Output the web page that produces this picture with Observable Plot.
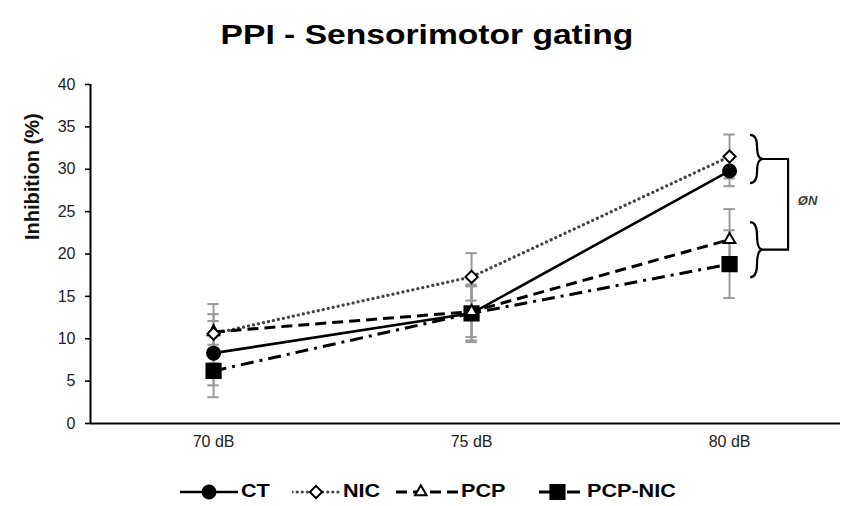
<!DOCTYPE html>
<html><head><meta charset="utf-8">
<script src="https://cdn.jsdelivr.net/npm/d3@7"></script>
<script src="https://cdn.jsdelivr.net/npm/@observablehq/plot@0.6"></script>
<style>
body{margin:0;background:#fff;font-family:"Liberation Sans",Arial,sans-serif;}
#wrap{width:853px;height:506px;position:relative;overflow:hidden;background:#fff}
#title{position:absolute;left:0;top:0;width:853px;height:70px;line-height:70px;text-align:center;font-weight:bold;font-size:28px;color:#000;}
#title span{display:inline-block;transform:scaleX(1.2);}
#chart{position:absolute;left:0;top:70px;}
#legend{position:absolute;left:0;top:470px;width:853px;height:36px;}
.lg-sw{position:absolute;top:12px;}
.lg-tx{position:absolute;top:10px;font-weight:bold;font-size:18px;line-height:22px;transform:scaleX(1.2);transform-origin:left center;color:#000;}
</style></head><body>
<div id="wrap"><div id="title"><span>PPI - Sensorimotor gating</span></div><div id="chart"></div><div id="legend"></div></div>
<script>
// ---- data ----
const categories = ["70 dB", "75 dB", "80 dB"];
const groups = ["CT", "NIC", "PCP", "PCP-NIC"];
const ct = [8.3, 13.0, 29.8];
const ctErr = [3.8, 3.2, 1.8];
const nic = [10.6, 17.3, 31.5];
const nicErr = [3.5, 2.8, 2.6];
const pcp = [10.8, 13.2, 21.7];
const pcpErr = [2.1, 3.0, 3.6];
const pcpNic = [6.2, 13.0, 18.8];
const pcpNicErr = [3.1, 3.4, 4.0];
const yTicks = [0, 5, 10, 15, 20, 25, 30, 35, 40];
const yLabel = "Inhibition (%)";
const significance = "ØN";
const braceCategory = 2;                 // 80 dB
const braceSpans = [[28.3, 34.0], [17.2, 23.7]];

// ---- styles ----
const styles = {
  "CT":      {stroke: "#000", width: 2.6, dash: null,        cap: "butt",  symbol: "circle",   fill: "#000", r: 6.5},
  "NIC":     {stroke: "#444", width: 3.2, dash: "0.1,5",     cap: "round", symbol: "diamond2", fill: "#fff", r: 5.5},
  "PCP":     {stroke: "#000", width: 3,   dash: "11,6",      cap: "butt",  symbol: "triangle2",fill: "#fff", r: 5.5},
  "PCP-NIC": {stroke: "#000", width: 3,   dash: "13,6,3,6",  cap: "butt",  symbol: "square",   fill: "#000", r: 8}
};
const seriesVals = {"CT": [ct, ctErr], "NIC": [nic, nicErr], "PCP": [pcp, pcpErr], "PCP-NIC": [pcpNic, pcpNicErr]};
const rows = groups.flatMap(g => categories.map((c, i) => ({group: g, cat: c, xi: i, value: seriesVals[g][0][i], err: seriesVals[g][1][i]})));

function braceMark(index, scales) {
  const g = d3.create("svg:g").attr("fill", "none").attr("stroke", "#000").attr("stroke-width", 2.2);
  const x0 = scales.x(braceCategory) + 21, xm = x0 + 7, xt = x0 + 13, xb = x0 + 38;
  const mids = [];
  for (const [lo, hi] of braceSpans) {
    const yt = scales.y(hi), yb = scales.y(lo), ym = (yt + yb) / 2;
    mids.push(ym);
    g.append("path").attr("d",
      `M${x0},${yt} Q${xm},${yt} ${xm},${(yt + ym) / 2} Q${xm},${ym} ${xt},${ym} Q${xm},${ym} ${xm},${(ym + yb) / 2} Q${xm},${yb} ${x0},${yb}`);
  }
  g.append("path").attr("d", `M${xt},${mids[0]} H${xb} V${mids[1]} H${xt}`);
  return g.node();
}
const sigY = d3.mean(braceSpans, s => (s[0] + s[1]) / 2) + 0.5;

const lineMarks = groups.map(g => Plot.line(rows.filter(d => d.group === g), {
  x: "xi", y: "value", stroke: styles[g].stroke, strokeWidth: styles[g].width,
  strokeDasharray: styles[g].dash, strokeLinecap: styles[g].cap
}));
const dotOrder = ["CT", "PCP-NIC", "PCP", "NIC"];
const dotMarks = dotOrder.map(g => Plot.dot(rows.filter(d => d.group === g), {
  x: "xi", y: "value", symbol: () => styles[g].symbol, r: styles[g].r,
  fill: styles[g].fill, stroke: "#000", strokeWidth: 2
}));

const chart = Plot.plot({
  width: 853, height: 395,
  marginLeft: 90, marginRight: 13, marginTop: 14, marginBottom: 42,
  style: {fontFamily: "'Liberation Sans', Arial, sans-serif", background: "transparent"},
  x: {domain: [-0.477, 2.43], axis: null},
  y: {domain: [0, 40], axis: null},
  symbol: {type: "identity"},
  marks: [
    Plot.axisY({ticks: yTicks, tickSize: 5, tickPadding: 10, fontSize: 16, label: null, stroke: "#000", strokeWidth: 1.6, fill: "#222"}),
    Plot.axisX({ticks: [0, 1, 2], tickFormat: i => categories[i], tickSize: 0, tickPadding: 12, fontSize: 16, label: null, fill: "#222"}),
    Plot.text([yLabel], {frameAnchor: "left", rotate: -90, dx: -58, dy: -14, fontSize: 20, fontWeight: "bold", fill: "#111"}),
    Plot.ruleX(rows, {x: "xi", y1: d => d.value - d.err, y2: d => d.value + d.err, stroke: "#999", strokeWidth: 2}),
    Plot.ruleY(rows, {y: d => d.value + d.err, x1: d => d.xi - 0.022, x2: d => d.xi + 0.022, stroke: "#999", strokeWidth: 2}),
    Plot.ruleY(rows, {y: d => d.value - d.err, x1: d => d.xi - 0.022, x2: d => d.xi + 0.022, stroke: "#999", strokeWidth: 2}),
    ...lineMarks,
    ...dotMarks,
    Plot.ruleY([0], {stroke: "#000", strokeWidth: 2}),
    Plot.ruleX([-0.477], {y1: 0, y2: 40, stroke: "#000", strokeWidth: 2}),
    braceMark,
    Plot.text([significance], {x: braceCategory, y: sigY, dx: 78, fontSize: 13, fontWeight: "bold", fontStyle: "italic", fill: "#444"})
  ]
});
document.getElementById("chart").appendChild(chart);

// ---- legend ----
const legendPos = {"CT": [180, 58, 241], "NIC": [292, 48, 343], "PCP": [396, 62, 461], "PCP-NIC": [539, 44, 587]};
const legendMarker = {"CT": 0.5, "NIC": 0.5, "PCP": 0.4, "PCP-NIC": 0.42};
const symbolMap = {circle: d3.symbolCircle, diamond2: d3.symbolDiamond2, triangle2: d3.symbolTriangle2, square: d3.symbolSquare};
const legend = d3.select("#legend");
for (const g of groups) {
  const [left, w, tx] = legendPos[g];
  const s = styles[g];
  const svg = legend.append("svg").attr("class", "lg-sw").attr("width", w).attr("height", 20).style("left", left + "px");
  svg.append("line").attr("x1", 0).attr("x2", w).attr("y1", 10).attr("y2", 10)
    .attr("stroke", s.stroke).attr("stroke-width", s.width)
    .attr("stroke-dasharray", s.dash).attr("stroke-linecap", s.cap);
  svg.append("path").attr("transform", `translate(${w * legendMarker[g]},10)`)
    .attr("d", d3.symbol(symbolMap[s.symbol], Math.PI * s.r * s.r)())
    .attr("fill", s.fill).attr("stroke", "#000").attr("stroke-width", 2);
  legend.append("div").attr("class", "lg-tx").style("left", tx + "px").text(g);
}
</script>
</body></html>
